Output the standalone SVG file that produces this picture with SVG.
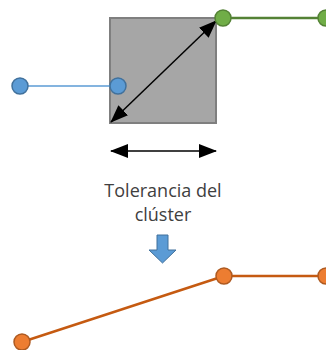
<svg xmlns="http://www.w3.org/2000/svg" width="326" height="350" viewBox="0 0 326 350">
<style>
.lbl{font-family:"Open Sans","Liberation Sans",Arial,sans-serif;font-size:18px;fill:#404040;text-anchor:middle}
.blue{fill:#5b9bd5;stroke:#41719c;stroke-width:1.5}
.green{fill:#70ad47;stroke:#548235;stroke-width:1.5}
.orange{fill:#ed7d31;stroke:#ae5a21;stroke-width:1.5}
</style>
<defs>
<marker id="ah2" markerWidth="18" markerHeight="14" refX="17" refY="7" orient="auto-start-reverse" markerUnits="userSpaceOnUse" viewBox="0 0 18 14">
<path d="M0,0 L18,7 L0,14 z" fill="#000"/>
</marker>
</defs>
<g id="cluster-box">
<rect x="110" y="18" width="106" height="105" fill="#a6a6a6" stroke="#7f7f7f" stroke-width="2"/>
</g>
<g id="connectors">
<line x1="20" y1="86" x2="118" y2="86" stroke="#5b9bd5" stroke-width="1.3"/>
<line x1="223" y1="18" x2="326" y2="18" stroke="#548235" stroke-width="2.5"/>
<line x1="22" y1="342" x2="224" y2="276" stroke="#c55a11" stroke-width="2.5"/>
<line x1="224" y1="276" x2="326" y2="276" stroke="#c55a11" stroke-width="2.5"/>
<line x1="111" y1="122" x2="216" y2="21" stroke="#000" stroke-width="1.5" marker-start="url(#ah2)" marker-end="url(#ah2)"/>
<line x1="111" y1="151" x2="216" y2="151" stroke="#000" stroke-width="1.5" marker-start="url(#ah2)" marker-end="url(#ah2)"/>
</g>
<g id="node-blue-1"><circle cx="20" cy="86" r="8" class="blue"/></g>
<g id="node-blue-2"><circle cx="118" cy="86" r="8" class="blue"/></g>
<g id="node-green-1"><circle cx="223" cy="18" r="8" class="green"/></g>
<g id="node-green-2"><circle cx="326" cy="18" r="8" class="green"/></g>
<g id="node-orange-1"><circle cx="22" cy="342" r="8" class="orange"/></g>
<g id="node-orange-2"><circle cx="224" cy="276" r="8" class="orange"/></g>
<g id="node-orange-3"><circle cx="326" cy="276" r="8" class="orange"/></g>
<g id="label">
<text class="lbl" x="163" y="197">Tolerancia del</text>
<text class="lbl" x="163" y="221">clúster</text>
</g>
<g id="down-arrow">
<path d="M157,235 H168 V250 H176 L162.5,263 L149,250 H157 Z" fill="#5b9bd5" stroke="#41719c" stroke-width="1"/>
</g>
</svg>
